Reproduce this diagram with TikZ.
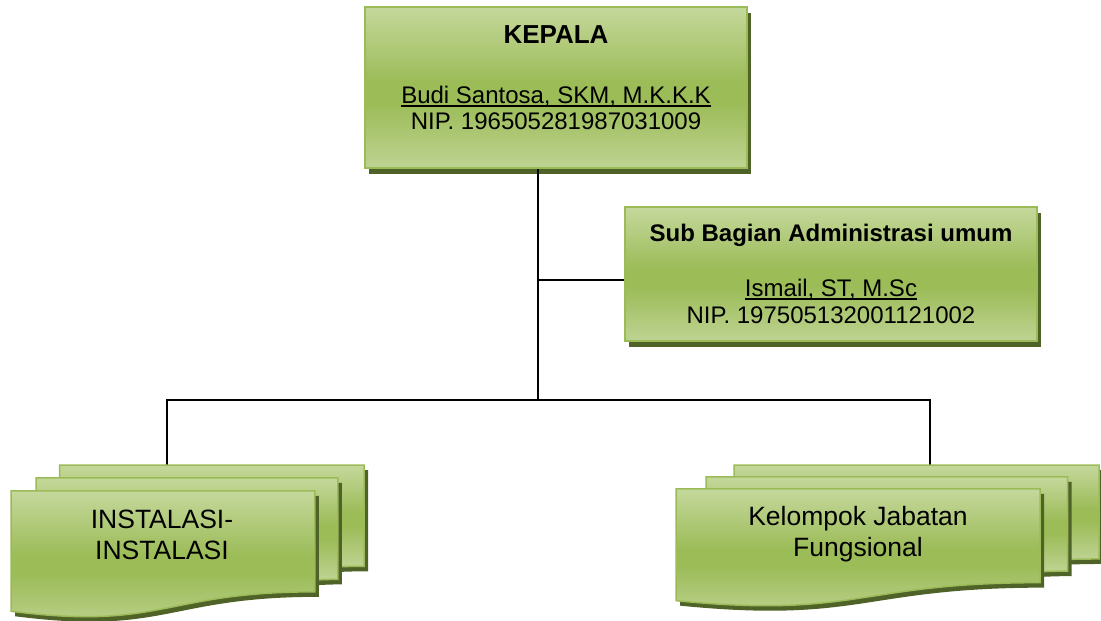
\documentclass[tikz,border=0pt]{standalone}
\usepackage{fontspec}
\setmainfont{Liberation Sans}
\usetikzlibrary{shadows}
\definecolor{gl}{RGB}{197,216,156}
\definecolor{gd}{RGB}{156,188,88}
\definecolor{gb}{RGB}{190,211,146}
\definecolor{shd}{RGB}{79,98,40}
\definecolor{bord}{RGB}{155,187,89}
\pgfdeclareverticalshading{greenfx}{100bp}{color(0bp)=(gb); color(25bp)=(gb); color(45bp)=(gd); color(52bp)=(gd); color(75bp)=(gl); color(100bp)=(gl)}
\newcommand\myul[1]{\setbox0\hbox{#1}\rlap{\rule[-3.6pt]{\wd0}{1.2pt}}\box0}
\tikzset{
  orgbox/.style={shade, shading=greenfx, draw=bord, line width=1.5pt, inner sep=0pt,
    general shadow={fill=shd, shadow xshift=4pt, shadow yshift=-5.5pt}},
  docfill/.style={shade, shading=greenfx, draw=bord, line width=1.5pt},
  docshadow/.style={fill=shd, shift={(4pt,-5pt)}},
  txt/.style={inner sep=0pt, anchor=base, font=\fontsize{24}{28}\selectfont},
  bigtxt/.style={inner sep=0pt, anchor=base, font=\fontsize{26.5}{30}\selectfont},
  conn/.style={draw=black, line width=1.3pt}
}
\newcommand\dpiece[1]{\fill[docshadow] #1; \path[docfill] #1;}
% #1,#2 top-left, #3 x unit, #4 y unit
\newcommand\mdoc[4]{%
  \begin{scope}[shift={(#1,#2)}, x=#3pt, y=-#4pt]
    \dpiece{(29.72,0) -- (216,0) -- (216,143.92) .. controls (208,143.92) and (200,144.67) .. (200,144.67) -- (29.72,144.67) -- cycle}
    \dpiece{(15.32,18.15) -- (200,18.15) -- (200,162.52) .. controls (192.98,162.52) and (185.95,163.52) .. (185.95,163.52) -- (15.32,163.52) -- cycle}
    \dpiece{(0,36.75) -- (185.95,36.75) -- (185.95,180.22) .. controls (92.98,180.22) and (92.98,235.42) .. (0,207.82) -- cycle}
  \end{scope}}
\begin{document}
\begin{tikzpicture}[x=1pt, y=-1pt]
\useasboundingbox (0,0) rectangle (1101,621);
% coordinates for connectors
\coordinate (trunkMid) at (538,280);
\coordinate (trunkBot) at (538,400);
\coordinate (instTop) at (167,465);
\coordinate (kelTop) at (930,465);
% boxes
\node[orgbox, minimum width=382pt, minimum height=161pt] (kepala) at (556,87.5) {};
\node[orgbox, minimum width=412pt, minimum height=134pt] (sub) at (831,274) {};
% connectors
\draw[conn] (trunkBot |- kepala.south) -- (trunkBot);
\draw[conn] (trunkMid) -- (trunkMid -| sub.west);
\draw[conn] (instTop) |- (trunkBot) -| (kelTop);
% multi-document shapes
\mdoc{11}{465}{1.6343}{0.7037}
\mdoc{676}{465}{1.9583}{0.6528}
% texts
\node[txt, font=\fontsize{26}{30}\selectfont\bfseries] (k1) at (556,43) {KEPALA};
\node[txt] (k2) at (556,103) {\myul{Budi Santosa, SKM, M.K.K.K}};
\node[txt] (k3) at (556,129) {NIP. 196505281987031009};
\node[txt, font=\fontsize{24}{28}\selectfont\bfseries] (s1) at (831,241) {Sub Bagian Administrasi umum};
\node[txt] (s2) at (831,296) {\myul{Ismail, ST, M.Sc}};
\node[txt] (s3) at (831,323) {NIP. 197505132001121002};
\node[bigtxt] (i1) at (162,528) {INSTALASI-};
\node[bigtxt] (i2) at (162,559) {INSTALASI};
\node[bigtxt] (f1) at (858,525) {Kelompok Jabatan};
\node[bigtxt] (f2) at (858,556) {Fungsional};
\end{tikzpicture}
\end{document}
